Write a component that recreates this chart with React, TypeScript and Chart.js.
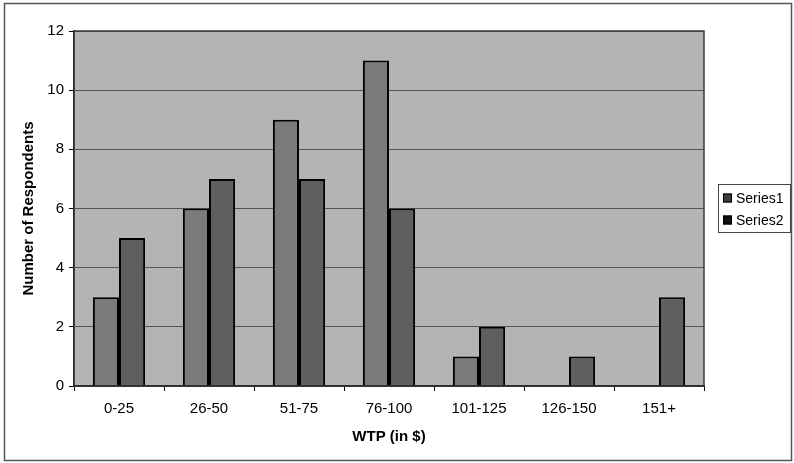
import React, { useEffect, useRef } from "react";
import { Chart, registerables } from "chart.js";

Chart.register(...registerables);

const categories = ["0-25", "26-50", "51-75", "76-100", "101-125", "126-150", "151+"];
const series1 = [3, 6, 9, 11, 1, 0, 0];
const series2 = [5, 7, 7, 6, 2, 1, 3];
const seriesNames = ["Series1", "Series2"];
const yTicks = { min: 0, max: 12, step: 2 };

const FONT = "'Liberation Sans', Arial, sans-serif";
const PLOT_BG = "#b4b4b4";
const S1_COLOR = "#7b7b7b";
const S2_COLOR = "#5f5f5f";

const framePlugin = {
  id: "frame",
  beforeDraw(chart: any) {
    const { ctx, chartArea } = chart;
    ctx.save();
    ctx.fillStyle = "#ffffff";
    ctx.fillRect(0, 0, chart.width, chart.height);
    ctx.fillStyle = PLOT_BG;
    ctx.fillRect(chartArea.left, chartArea.top, chartArea.right - chartArea.left, chartArea.bottom - chartArea.top);
    ctx.restore();
  },
  afterDraw(chart: any) {
    const { ctx, chartArea } = chart;
    ctx.save();
    // plot area border
    ctx.strokeStyle = "#3a3a3a";
    ctx.lineWidth = 1.5;
    ctx.strokeRect(chartArea.left, chartArea.top, chartArea.right - chartArea.left, chartArea.bottom - chartArea.top);
    // outer chart border
    ctx.strokeStyle = "#555555";
    ctx.lineWidth = 1.5;
    ctx.strokeRect(4.5, 3.5, 787, 457);
    // legend
    const lx = 718, ly = 184, lw = 72, lh = 48;
    ctx.fillStyle = "#ffffff";
    ctx.fillRect(lx, ly, lw, lh);
    ctx.strokeStyle = "#444444";
    ctx.lineWidth = 1;
    ctx.strokeRect(lx + 0.5, ly + 0.5, lw, lh);
    const swatches = ["#3c3c3c", "#111111"];
    ctx.font = `14px ${FONT}`;
    ctx.textBaseline = "middle";
    ctx.textAlign = "left";
    seriesNames.forEach((name, i) => {
      const cy = ly + 14 + i * 22;
      ctx.fillStyle = swatches[i];
      ctx.fillRect(723, cy - 4.5, 9, 9);
      ctx.strokeStyle = "#000";
      ctx.lineWidth = 1;
      ctx.strokeRect(723.5, cy - 4, 8, 8);
      ctx.fillStyle = "#000";
      ctx.fillText(name, 736, cy + 1);
    });
    ctx.restore();
  },
};

export default function App() {
  const ref = useRef<HTMLCanvasElement | null>(null);
  useEffect(() => {
    if (!ref.current) return;
    const chart = new Chart(ref.current, {
      type: "bar",
      data: {
        labels: categories,
        datasets: [
          {
            label: seriesNames[0],
            data: series1,
            backgroundColor: S1_COLOR,
            borderColor: "#000000",
            borderWidth: 2,
            categoryPercentage: 0.58,
            barPercentage: 1.0,
          },
          {
            label: seriesNames[1],
            data: series2,
            backgroundColor: S2_COLOR,
            borderColor: "#000000",
            borderWidth: 2,
            categoryPercentage: 0.58,
            barPercentage: 1.0,
          },
        ],
      },
      options: {
        responsive: false,
        animation: false,
        devicePixelRatio: 1,
        layout: { padding: { left: 0, right: 90, top: 31, bottom: 0 } },
        plugins: {
          legend: { display: false },
          tooltip: { enabled: false },
          title: { display: false },
        },
        scales: {
          x: {
            grid: { display: true, drawOnChartArea: false, drawTicks: true, tickLength: 5, color: "#000", offset: true },
            border: { display: true, color: "#000", width: 1.5 },
            ticks: { color: "#000", font: { family: FONT, size: 15 }, padding: 9, maxRotation: 0 },
            title: {
              display: true,
              text: "WTP (in $)",
              color: "#000",
              font: { family: FONT, size: 15, weight: "bold" },
              padding: { top: 0, bottom: 17 },
            },
            afterFit: (scale: any) => {
              scale.height = 77;
            },
          },
          y: {
            min: yTicks.min,
            max: yTicks.max,
            ticks: { stepSize: yTicks.step, color: "#000", font: { family: FONT, size: 15 }, padding: 5 },
            grid: { color: "#555555", lineWidth: 1, tickLength: 5, tickColor: "#000" },
            border: { display: true, color: "#000", width: 1.5 },
            title: {
              display: true,
              text: "Number of Respondents",
              color: "#000",
              font: { family: FONT, size: 15, weight: "bold" },
              padding: { top: 20, bottom: 0 },
            },
            afterFit: (scale: any) => {
              scale.width = 74;
            },
          },
        },
      },
      plugins: [framePlugin],
    });
    return () => chart.destroy();
  }, []);
  return (
    <div style={{ position: "absolute", left: 0, top: 0, width: 794, height: 463, background: "#fff" }}>
      <canvas ref={ref} width={794} height={463} style={{ display: "block", width: 794, height: 463 }} />
    </div>
  );
}
